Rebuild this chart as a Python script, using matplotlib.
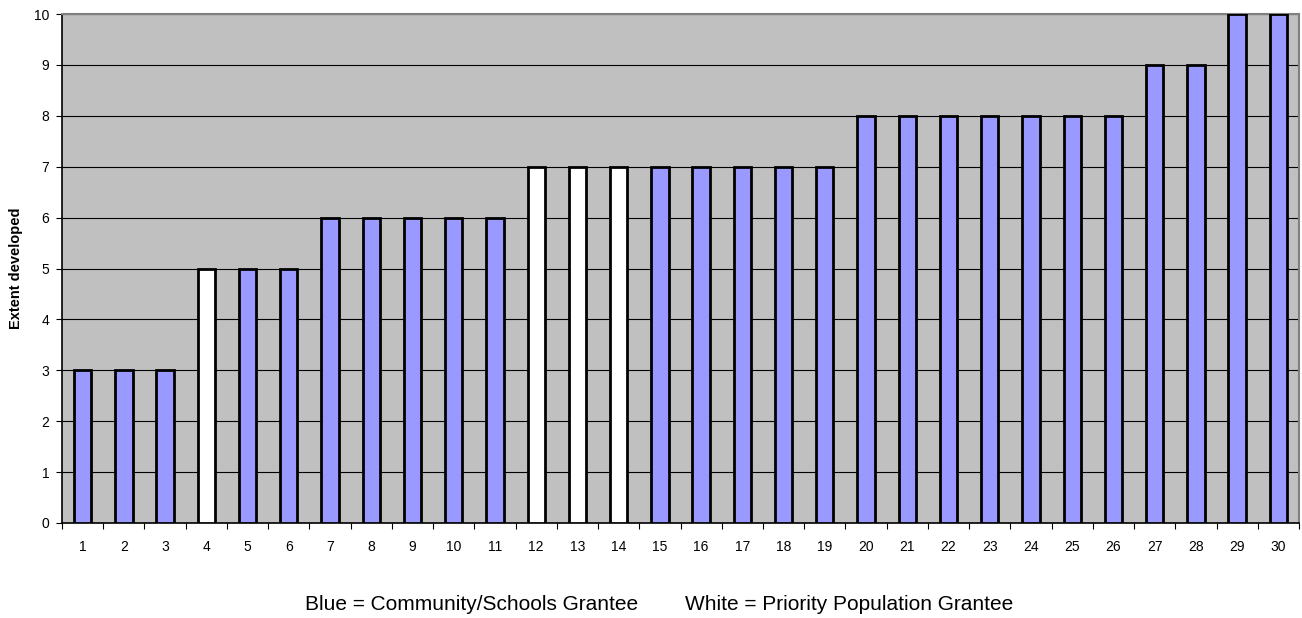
import matplotlib
matplotlib.use("Agg")
import matplotlib.pyplot as plt

plt.rcParams.update({
    "font.family": ["Liberation Sans", "DejaVu Sans"],
    "font.size": 10,
})

grantees = [str(i) for i in range(1, 31)]
extent = [3, 3, 3, 5, 5, 5, 6, 6, 6, 6, 6, 7, 7, 7, 7, 7, 7, 7, 7,
          8, 8, 8, 8, 8, 8, 8, 9, 9, 10, 10]
priority = [4, 12, 13, 14]  # white bars

BLUE = "#9999ff"; GREY = "#c0c0c0"
W, H = 1302, 618

fig = plt.figure(figsize=(W / 100, H / 100), dpi=100)
ax = fig.add_axes([62 / W, 1 - 523 / H, (1299 - 62) / W, (523 - 14) / H])
ax.set_facecolor(GREY)

colors = ["white" if int(g) in priority else BLUE for g in grantees]
xs = list(range(len(grantees)))
ax.bar(xs, extent, width=0.42, color=colors, edgecolor="black", linewidth=2.0, zorder=3)

ax.set_xlim(-0.5, len(grantees) - 0.5)
ax.set_ylim(0, 10)
ax.set_yticks(range(11))
ax.yaxis.grid(True, color="black", linewidth=0.8, zorder=1)
ax.set_axisbelow(True)

# labels centred on categories, ticks on the category boundaries
ax.set_xticks(xs)
ax.set_xticklabels(grantees)
ax.tick_params(axis="x", length=0, pad=12)
ax.set_xticks([x - 0.5 for x in xs] + [len(xs) - 0.5], minor=True)
ax.tick_params(axis="x", which="minor", length=4, width=0.8, direction="out")
ax.tick_params(axis="y", length=4, width=0.8, pad=5)

for s in ("top", "right"):
    ax.spines[s].set_color("#808080")
    ax.spines[s].set_linewidth(1.5)
ax.spines["left"].set_linewidth(1.2)
ax.spines["bottom"].set_linewidth(1.2)

ax.set_ylabel("Extent developed", fontweight="bold", fontsize=10.5)
ax.yaxis.set_label_coords((23 - 62) / (1299 - 62), 0.5)

fig.text(305 / W, 1 - 605 / H, "Blue = Community/Schools Grantee",
         ha="left", va="center", fontsize=15)
fig.text(685 / W, 1 - 605 / H, "White = Priority Population Grantee",
         ha="left", va="center", fontsize=15)

fig.savefig("out.png", dpi=100)
